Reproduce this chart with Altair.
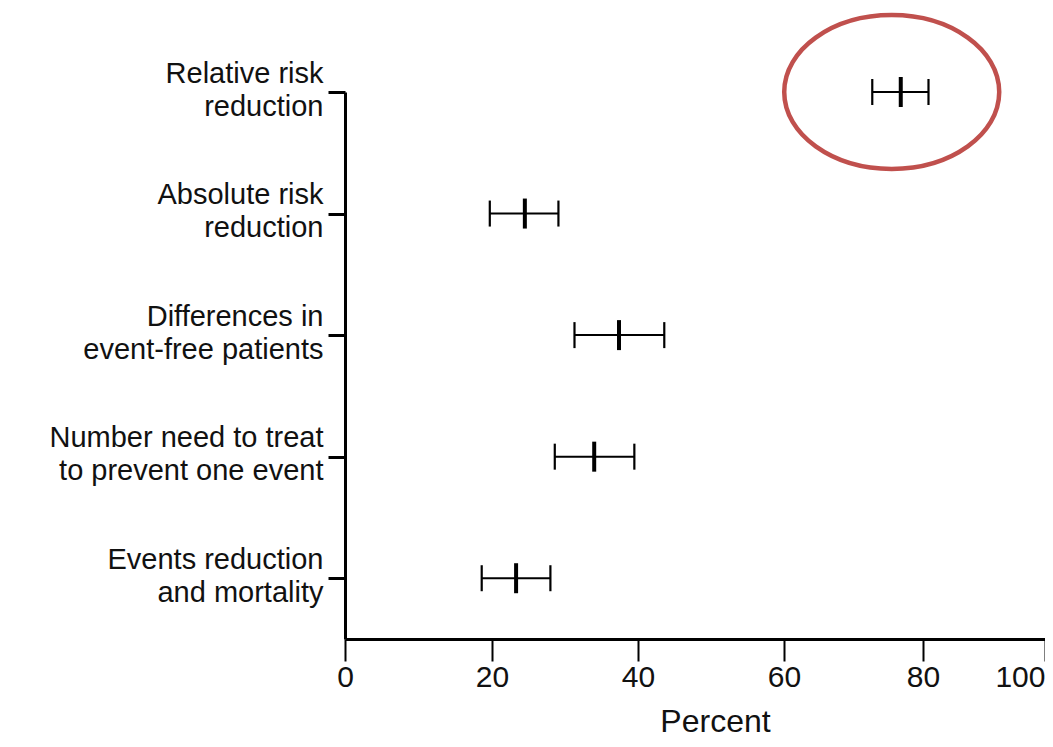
import json
import altair as alt
import pandas as pd

# ---- data ----
categories = [
    "Relative risk\nreduction",
    "Absolute risk\nreduction",
    "Differences in\nevent-free patients",
    "Number need to treat\nto prevent one event",
    "Events reduction\nand mortality",
]
lower = [72.7, 19.7, 31.3, 28.6, 18.6]
center = [76.8, 24.5, 37.4, 34.0, 23.3]
upper = [80.9, 29.1, 43.6, 39.5, 28.0]
x_ticks = [0, 20, 40, 60, 80, 100]

# highlighted row (red ellipse annotation)
highlight_row = [0]
highlight_center = [75.5]

df = pd.DataFrame({
    "row": list(range(len(categories))),
    "label": categories,
    "low": lower,
    "mid": center,
    "high": upper,
})
hl = pd.DataFrame({"row": highlight_row, "x": highlight_center})

label_expr = "[" + ",".join(json.dumps(c.split("\n")) for c in categories) + "][datum.value]"

FONT = "Liberation Sans"

# the scanned axis is slightly uneven; scale follows its tick positions
x_scale = alt.Scale(domain=x_ticks, range=[0, 147, 293, 439, 578, 700], nice=False, zero=False)
y_scale = alt.Scale(domain=[0, 4.5], reverse=True, nice=False, zero=False)

x_axis = alt.Axis(
    values=x_ticks, grid=False, title="Percent",
    domainColor="black", domainWidth=3,
    tickColor="black", tickWidth=2, tickSize=22,
    labelFont=FONT, labelFontSize=30, labelColor="#111", labelPadding=1,
    labelAlign={"condition": {"test": "datum.value === 100", "value": "right"}, "value": "center"},
    labelFlush=False, labelOverlap=False,
    titleFont=FONT, titleFontSize=32, titleFontWeight="normal", titleColor="#111",
    titleX=370, titleY=92, titleBaseline="alphabetic", titleAlign="center",
)
y_axis = alt.Axis(
    values=list(range(len(categories))), grid=False, title=None,
    labelExpr=label_expr, labelLimit=500,
    domainColor="black", domainWidth=3,
    tickColor="black", tickWidth=3, tickSize=17,
    labelFont=FONT, labelFontSize=29, labelColor="#111", labelPadding=5,
    labelLineHeight=33, labelOffset=-19, labelAlign="right", labelBaseline="middle",
)

base = alt.Chart(df)

rules = base.mark_rule(color="black", strokeWidth=2).encode(
    x=alt.X("low:Q", scale=x_scale, axis=x_axis),
    x2="high:Q",
    y=alt.Y("row:Q", scale=y_scale, axis=y_axis),
)

vline = "M0,-1L0,1"
caps_low = base.mark_point(shape=vline, size=26 * 26, strokeWidth=2.2, color="black",
                           filled=False, opacity=1).encode(
    x=alt.X("low:Q", scale=x_scale), y=alt.Y("row:Q", scale=y_scale))
caps_high = base.mark_point(shape=vline, size=26 * 26, strokeWidth=2.2, color="black",
                            filled=False, opacity=1).encode(
    x=alt.X("high:Q", scale=x_scale), y=alt.Y("row:Q", scale=y_scale))
mids = base.mark_point(shape=vline, size=30 * 30, strokeWidth=4, color="black",
                       filled=False, opacity=1).encode(
    x=alt.X("mid:Q", scale=x_scale), y=alt.Y("row:Q", scale=y_scale))

k = 0.716
c = 0.5523
ell = (f"M-1,0C-1,{-c*k:.4f},{-c:.4f},{-k},0,{-k}C{c:.4f},{-k},1,{-c*k:.4f},1,0"
       f"C1,{c*k:.4f},{c:.4f},{k},0,{k}C{-c:.4f},{k},-1,{c*k:.4f},-1,0Z")
ellipse = alt.Chart(hl).mark_point(shape=ell, size=215 * 215, strokeWidth=4.5,
                                   color="#c0504d", filled=False, opacity=1).encode(
    x=alt.X("x:Q", scale=x_scale), y=alt.Y("row:Q", scale=y_scale))

chart = alt.layer(rules, caps_low, caps_high, mids, ellipse).properties(
    width=700, height=547,
    autosize=alt.AutoSizeParams(type="none"),
    padding={"left": 337, "top": 84, "right": 0, "bottom": 100},
    background="white",
).configure_view(stroke=None)

chart.save("out.html", embed_options={"renderer": "svg", "actions": False})
